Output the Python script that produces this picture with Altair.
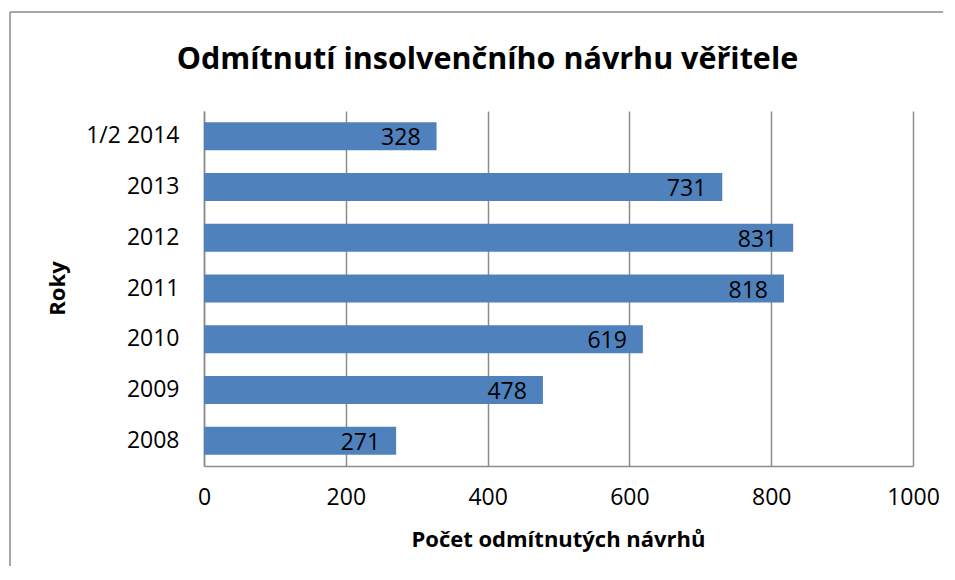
import altair as alt
import pandas as pd

years = ["1/2 2014", "2013", "2012", "2011", "2010", "2009", "2008"]
counts = [328, 731, 831, 818, 619, 478, 271]
x_ticks = [0, 200, 400, 600, 800, 1000]

title_text = "Odmítnutí insolvenčního návrhu věřitele"
x_title = "Počet odmítnutých návrhů"
y_title = "Roky"

df = pd.DataFrame({"rok": years, "pocet": counts})

FONT = "Open Sans"
W, H = 709, 355

xscale = alt.Scale(domain=[0, 1000], nice=False, zero=True)
yscale = alt.Scale(domain=years, paddingInner=0.447, paddingOuter=0.223)

base = alt.Chart(df)

bars = base.mark_bar(color="#4F81BD").encode(
    x=alt.X("pocet:Q", scale=xscale,
            axis=alt.Axis(values=x_ticks, format="d", title=None, grid=True, gridColor="#8C8C8C",
                          gridWidth=1.5, ticks=False, domain=True, domainColor="#8C8C8C",
                          domainWidth=1.5, labelFont=FONT, labelFontSize=23,
                          labelColor="#000000", labelPadding=20, labelFlush=False)),
    y=alt.Y("rok:N", scale=yscale, sort=years,
            axis=alt.Axis(title=None, ticks=False, domain=True, domainColor="#8C8C8C",
                          domainWidth=1.5, labelFont=FONT, labelFontSize=23,
                          labelColor="#000000", labelPadding=25, grid=False)),
)

labels = base.mark_text(align="right", baseline="middle", dx=-16, dy=2,
                        font=FONT, fontSize=23, color="#000000").encode(
    x=alt.X("pocet:Q", scale=xscale),
    y=alt.Y("rok:N", scale=yscale, sort=years),
    text=alt.Text("pocet:Q"),
)

deco = pd.DataFrame({"t": [title_text]})
title = alt.Chart(deco).mark_text(align="center", baseline="alphabetic", font=FONT,
                                   fontSize=30.5, fontWeight="bold", color="#000000").encode(
    x=alt.value(283.5), y=alt.value(-42), text="t:N")

xt = alt.Chart(pd.DataFrame({"t": [x_title]})).mark_text(
    align="center", baseline="alphabetic", font=FONT, fontSize=22, fontWeight="bold",
    color="#000000").encode(x=alt.value(354.5), y=alt.value(436), text="t:N")

yt = alt.Chart(pd.DataFrame({"t": [y_title]})).mark_text(
    align="center", baseline="middle", font=FONT, fontSize=22, fontWeight="bold",
    color="#000000", angle=270).encode(x=alt.value(-146), y=alt.value(177.5), text="t:N")

frame_top = alt.Chart(pd.DataFrame({"a": [0]})).mark_rule(
    stroke="#888888", strokeWidth=1.5).encode(
    x=alt.value(-194), x2=alt.value(760), y=alt.value(-99))
frame_left = alt.Chart(pd.DataFrame({"a": [0]})).mark_rule(
    stroke="#888888", strokeWidth=1.5).encode(
    x=alt.value(-194), y=alt.value(-99), y2=alt.value(480))

chart = alt.layer(frame_top, frame_left, bars, labels, title, xt, yt).properties(
    width=W, height=H,
    autosize=alt.AutoSizeParams(type="none"),
    padding={"left": 196, "top": 103, "right": 30, "bottom": 100},
).configure_view(stroke=None)

chart.save("out.html", embed_options={"renderer": "svg", "actions": False})
